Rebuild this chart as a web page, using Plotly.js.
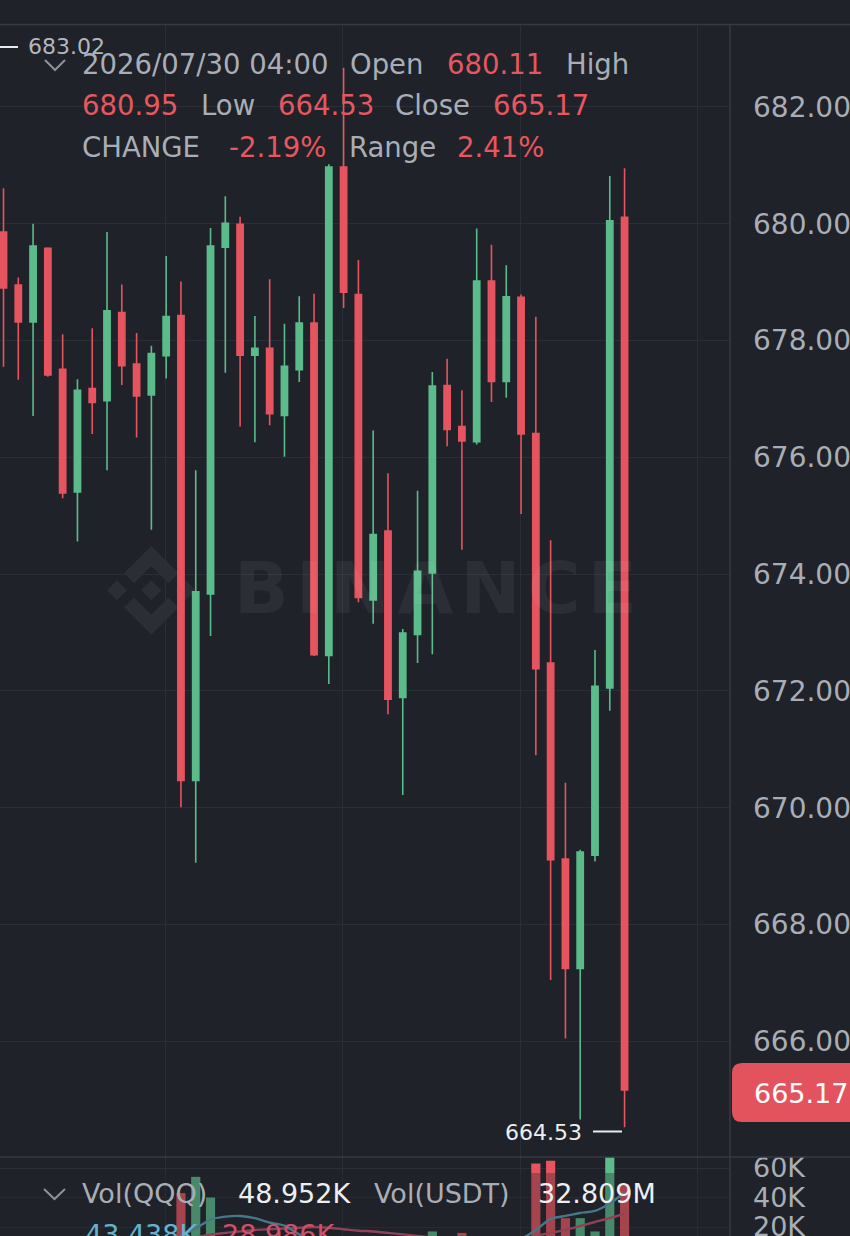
<!DOCTYPE html>
<html>
<head>
<meta charset="utf-8">
<script src="https://cdn.plot.ly/plotly-3.0.1.min.js"></script>
<style>
  html, body { margin: 0; padding: 0; background: #1f2229; }
  #chart { width: 850px; height: 1236px; }
</style>
</head>
<body>
<div id="chart"></div>
<script>
// ---- Data ----
const openP  = [679.86, 678.95, 678.32, 679.58, 677.51, 675.41, 677.18, 676.97, 678.48, 677.60, 677.07, 677.74, 678.43, 670.47, 673.66, 679.60, 679.99, 677.75, 677.87, 676.72, 677.50, 678.30, 672.61, 680.97, 678.79, 673.56, 674.74, 671.89, 672.97, 674.02, 677.23, 676.53, 676.27, 679.02, 677.30, 678.74, 676.41, 672.48, 669.12, 667.25, 669.19, 672.05, 680.11];
const highP  = [680.61, 679.08, 680.00, 679.60, 678.11, 677.34, 678.21, 679.86, 678.96, 678.13, 677.91, 679.45, 679.01, 675.78, 679.93, 680.47, 680.12, 678.42, 679.05, 678.29, 678.76, 678.80, 681.02, 682.67, 679.38, 676.46, 675.73, 673.06, 675.43, 677.46, 677.69, 677.15, 679.92, 679.64, 679.29, 678.79, 678.41, 674.58, 670.43, 669.28, 672.70, 680.82, 680.95];
const lowP   = [677.55, 677.33, 676.71, 677.38, 675.30, 674.56, 676.40, 675.78, 677.24, 676.34, 674.76, 677.35, 670.01, 669.06, 672.94, 677.45, 676.53, 676.26, 676.55, 676.01, 677.29, 672.60, 672.12, 678.56, 673.52, 673.15, 671.60, 670.22, 672.48, 672.63, 676.19, 674.42, 676.22, 676.95, 677.02, 675.03, 670.90, 667.05, 666.05, 664.66, 669.08, 671.66, 664.53];
const closeP = [678.90, 678.32, 679.62, 677.41, 675.39, 677.15, 676.94, 678.51, 677.57, 677.05, 677.78, 678.41, 670.47, 673.70, 679.62, 680.01, 677.75, 677.87, 676.75, 677.56, 678.30, 672.62, 680.97, 678.83, 673.60, 674.68, 671.86, 672.99, 674.05, 677.22, 676.48, 676.28, 679.02, 677.30, 678.75, 676.40, 672.38, 669.11, 667.25, 669.24, 672.08, 680.05, 665.17];
// volume in thousands (K)
const volumeK = [12, 9, 8, 10, 12, 9, 7, 10, 8, 7, 9, 8, 43, 54, 40, 12, 11, 8, 7, 9, 8, 13, 12, 11, 10, 9, 11, 8, 9, 17, 7, 16, 10, 8, 9, 11, 63, 65, 26, 26, 17, 69, 48.952];
// volume moving averages (K)
const volMA5  = [10, 10, 10, 10, 10, 10, 10, 10, 9, 9, 8, 8, 14, 19, 25, 27, 27.5, 26, 23, 21, 15, 10, 10, 11, 11, 11, 11, 10, 10, 11, 11, 12, 12, 12, 11, 12, 18, 25.5, 27.5, 29.5, 31, 36, 43.438];
const volMA10 = [10, 10, 10, 10, 10, 10, 10, 9, 9, 9, 9, 9, 12, 13, 15, 16, 17, 18, 18.5, 19, 19.5, 20, 19.5, 18.5, 17.5, 17, 16, 15, 14, 13, 12, 11.5, 11.5, 11, 11, 11, 14, 16, 18, 20.7, 23.4, 26, 28.986];
const priceTicks = [666, 668, 670, 672, 674, 676, 678, 680, 682];
const volTicks = [20, 40, 60];
const volTickText = ['20K', '40K', '60K'];

// ---- Styling ----
const BG = '#1f2229';
const GRID = '#2a2e36';
const BORDER = '#363a42';
const UP = '#5bbb8b';
const DOWN = '#e5545f';
const GRAY = '#a9aeb6';
const RED_TXT = '#e6575f';
const FONT = 'DejaVu Sans, sans-serif';

const idx = openP.map((_, i) => i);

// pixel -> paper helpers (plot area: x 0..730, y 25..1236)
const PW = 730, PT = 25, PH = 1211;
const px = x => x / PW;
const py = y => (PT + PH - y) / PH;

const candles = {
  type: 'candlestick',
  x: idx, open: openP, high: highP, low: lowP, close: closeP,
  xaxis: 'x', yaxis: 'y',
  increasing: { line: { color: UP, width: 1.6 }, fillcolor: UP },
  decreasing: { line: { color: DOWN, width: 1.6 }, fillcolor: DOWN },
  whiskerwidth: 0,
  hoverinfo: 'skip'
};

const volColors = closeP.map((c, i) => c >= openP[i] ? UP : DOWN);
const volBars = {
  type: 'bar', x: idx, y: volumeK, xaxis: 'x', yaxis: 'y2',
  marker: { color: volColors, line: { width: 0 } },
  hoverinfo: 'skip'
};
const ma5 = {
  type: 'scatter', mode: 'lines', x: idx, y: volMA5, xaxis: 'x', yaxis: 'y2',
  line: { color: '#5c9fb6', width: 2.4, shape: 'spline', smoothing: 0.6 }, hoverinfo: 'skip'
};
const ma10 = {
  type: 'scatter', mode: 'lines', x: idx, y: volMA10, xaxis: 'x', yaxis: 'y2',
  line: { color: '#c2536a', width: 2.4, shape: 'spline', smoothing: 0.6 }, hoverinfo: 'skip'
};

// ---- text annotations ----
function txt(x, y, text, color, size, extra) {
  return Object.assign({
    xref: 'paper', yref: 'paper', x: px(x), y: py(y),
    xanchor: 'left', yanchor: 'middle', showarrow: false,
    text: text, font: { family: FONT, size: size, color: color }
  }, extra || {});
}
const HS = 27.5;
const HAIR = '\u200A';
const annotations = [
  txt(80, 64, '2026/07/30 04:00', GRAY, HS),
  txt(348, 64, 'Open', GRAY, HS),
  txt(445, 64, '680.11', RED_TXT, HS),
  txt(564, 64, 'High', GRAY, HS),
  txt(80, 105, '680.95', RED_TXT, HS),
  txt(199, 105, 'Low', GRAY, HS),
  txt(276, 105, '664.53', RED_TXT, HS),
  txt(393, 105, 'Close', GRAY, HS),
  txt(491, 105, '665.17', RED_TXT, HS),
  txt(80, 147, 'CHANGE', GRAY, HS),
  txt(227, 147, '-2.19%', RED_TXT, HS),
  txt(347, 147, 'Range', GRAY, HS),
  txt(455, 147, '2.41%', RED_TXT, HS),
  txt(26, 46, '683.02', '#b3b7bd', 22),
  txt(584, 1132, '664.53', '#eceef0', 22, { xanchor: 'right' }),
  txt(752, 1093, '665.17', '#ffffff', 27),
  txt(80, 1193, 'Vol(QQQ)', GRAY, 27),
  txt(236, 1193, '48.952K', '#eceef0', 27),
  txt(372, 1193, 'Vol(USDT)', GRAY, 27),
  txt(536, 1193, '32.809M', '#eceef0', 27),
  txt(83, 1234, '43.438K', '#63b3cf', 27),
  txt(220, 1234, '28.986K', '#cf5068', 27),
  txt(232, 588, '<b>' + 'BINANCE'.split('').join(HAIR) + '</b>', 'rgba(255,255,255,0.055)', 72)
];

// ---- shapes ----
function poly(points) {
  return 'M ' + points.map(p => px(p[0]).toFixed(5) + ',' + py(p[1]).toFixed(5)).join(' L ') + ' Z';
}
function line(x0, y0, x1, y1, color, width) {
  return { type: 'line', xref: 'paper', yref: 'paper', x0: px(x0), y0: py(y0), x1: px(x1), y1: py(y1),
           line: { color: color, width: width } };
}
// Binance logo watermark
const LS = 0.70, LX = 107, LY = 546;
const logoPolys = [
  [[38.73,53.2],[63.3,28.63],[87.89,53.22],[102.19,38.92],[63.3,0],[24.43,38.87]],
  [[0,63.31],[14.3,49.01],[28.6,63.31],[14.3,77.61]],
  [[38.73,73.41],[63.3,98],[87.89,73.41],[102.2,87.7],[63.3,126.61],[24.42,87.74]],
  [[98,63.31],[112.3,49.01],[126.6,63.31],[112.31,77.61]],
  [[77.83,63.3],[63.3,48.76],[48.77,63.3],[63.3,77.83]]
];
const shapes = [];
logoPolys.forEach(pl => {
  shapes.push({ type: 'path', xref: 'paper', yref: 'paper', layer: 'below',
    path: poly(pl.map(p => [LX + p[0]*LS, LY + p[1]*LS])),
    fillcolor: 'rgba(255,255,255,0.055)', line: { width: 0 } });
});
// dim overlay on lower volume area (legend row background)
shapes.push({ type: 'rect', xref: 'paper', yref: 'paper', layer: 'above',
  x0: 0, x1: 1, y0: py(1236), y1: py(1173),
  fillcolor: 'rgba(31,34,41,0.32)', line: { width: 0 } });
// borders
shapes.push(line(0, 24.5, 850, 24.5, BORDER, 1.5));
shapes.push(line(0, 1157, 850, 1157, BORDER, 1.5));
shapes.push(line(730, 24.5, 730, 1236, BORDER, 1.5));
// high / low markers
shapes.push(line(0, 47, 18, 47, '#e8eaed', 2));
shapes.push(line(593, 1131.5, 622, 1131.5, '#e8eaed', 2));
// chevrons
shapes.push({ type: 'path', xref: 'paper', yref: 'paper',
  path: 'M ' + px(45) + ',' + py(60) + ' L ' + px(55) + ',' + py(70) + ' L ' + px(65) + ',' + py(60),
  line: { color: '#8d929a', width: 2 } });
shapes.push({ type: 'path', xref: 'paper', yref: 'paper',
  path: 'M ' + px(44) + ',' + py(1189) + ' L ' + px(54.5) + ',' + py(1199) + ' L ' + px(65) + ',' + py(1189),
  line: { color: '#8d929a', width: 2 } });
// current price tag (rounded)
shapes.push({ type: 'path', xref: 'paper', yref: 'paper', layer: 'above',
  path: 'M ' + px(742) + ',' + py(1063) + ' L ' + px(860) + ',' + py(1063) + ' L ' + px(860) + ',' + py(1122) +
        ' L ' + px(742) + ',' + py(1122) + ' Q ' + px(732) + ',' + py(1122) + ' ' + px(732) + ',' + py(1112) +
        ' L ' + px(732) + ',' + py(1073) + ' Q ' + px(732) + ',' + py(1063) + ' ' + px(742) + ',' + py(1063) + ' Z',
  fillcolor: '#e3535e', line: { width: 0 } });

const volDomTop = (1236 - 1157) / PH;
const layout = {
  width: 850, height: 1236,
  margin: { l: 0, r: 120, t: 25, b: 0, pad: 0 },
  paper_bgcolor: BG, plot_bgcolor: BG,
  showlegend: false, hovermode: false, dragmode: false,
  boxgap: 0.4, bargap: 0.38,
  xaxis: {
    type: 'linear', range: [-0.237, 49.13], anchor: 'y2',
    showticklabels: false, ticks: '', tick0: 10.95, dtick: 12,
    showgrid: true, gridcolor: GRID, gridwidth: 1, zeroline: false, showline: false,
    rangeslider: { visible: false }, fixedrange: true
  },
  yaxis: {
    domain: [volDomTop, 1], range: [664.02, 683.404], side: 'right', anchor: 'x',
    tickmode: 'array', tickvals: priceTicks, tickformat: '.2f', ticks: '', ticklabelstandoff: 22,
    ticklabeloverflow: 'allow',
    tickfont: { family: FONT, size: 28, color: GRAY },
    showgrid: true, gridcolor: GRID, gridwidth: 1, zeroline: false, showline: false, fixedrange: true
  },
  yaxis2: {
    domain: [0, volDomTop], range: [13.9, 67.46], side: 'right', anchor: 'x',
    tickmode: 'array', tickvals: volTicks, ticktext: volTickText, ticks: '', ticklabelstandoff: 22,
    ticklabeloverflow: 'allow',
    tickfont: { family: FONT, size: 27, color: GRAY },
    showgrid: true, gridcolor: GRID, gridwidth: 1, zeroline: false, showline: false, fixedrange: true
  },
  annotations: annotations,
  shapes: shapes
};

Plotly.newPlot('chart', [volBars, ma10, ma5, candles], layout, { staticPlot: true, displayModeBar: false });
</script>
</body>
</html>
